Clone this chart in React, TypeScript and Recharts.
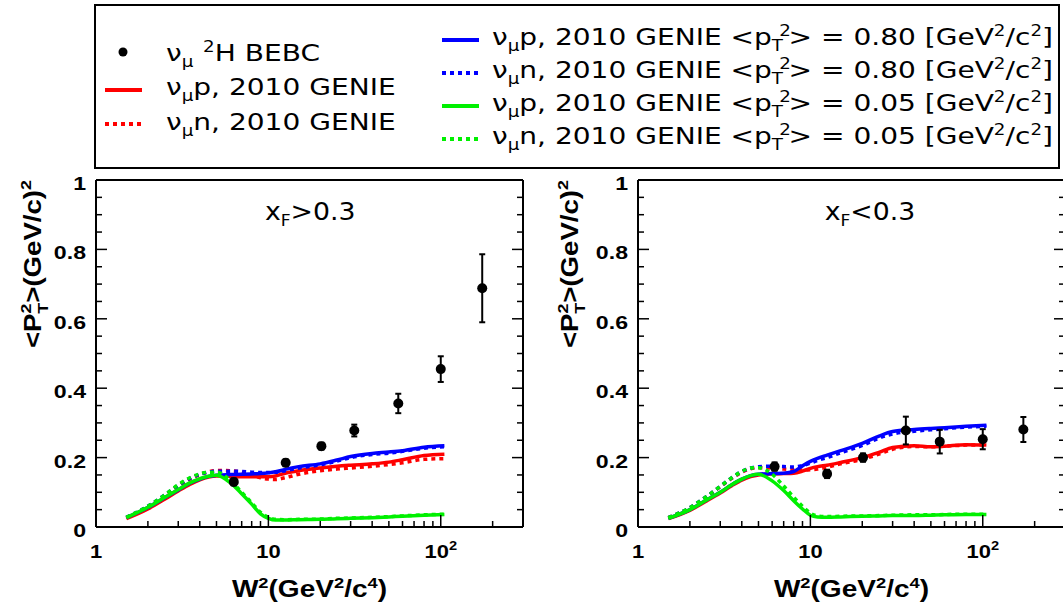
import React from "react";
import { ComposedChart, Line, Scatter, XAxis, YAxis, ErrorBar, ReferenceDot } from "recharts";

// W^2 grid of the GENIE curves
const W2 = [1.5, 2, 2.5, 3, 3.5, 4, 4.5, 5, 6, 7, 8, 9, 10, 11, 12.5, 15, 20, 25, 30, 40, 50, 60, 80, 105];

// x_F > 0.3
const hiRedP = [0.024, 0.052, 0.080, 0.104, 0.123, 0.136, 0.144, 0.147, 0.146, 0.145, 0.145, 0.145, 0.145, 0.147, 0.155, 0.162, 0.170, 0.175, 0.178, 0.182, 0.187, 0.194, 0.206, 0.210];
const hiRedN = [0.027, 0.058, 0.090, 0.118, 0.138, 0.151, 0.159, 0.163, 0.162, 0.158, 0.150, 0.142, 0.138, 0.137, 0.142, 0.152, 0.162, 0.167, 0.170, 0.175, 0.180, 0.185, 0.195, 0.197];
const hiBlueP = [0.027, 0.056, 0.084, 0.107, 0.126, 0.138, 0.146, 0.149, 0.151, 0.152, 0.153, 0.154, 0.156, 0.159, 0.166, 0.174, 0.182, 0.193, 0.203, 0.212, 0.216, 0.220, 0.230, 0.234];
const hiBlueN = [0.028, 0.060, 0.092, 0.120, 0.140, 0.152, 0.158, 0.161, 0.161, 0.160, 0.158, 0.157, 0.157, 0.158, 0.162, 0.170, 0.179, 0.190, 0.200, 0.209, 0.213, 0.218, 0.227, 0.231];
const hiGreenP = [0.027, 0.057, 0.085, 0.108, 0.127, 0.139, 0.146, 0.149, 0.128, 0.096, 0.066, 0.038, 0.025, 0.020, 0.020, 0.021, 0.022, 0.024, 0.025, 0.027, 0.029, 0.031, 0.034, 0.036];
const hiGreenN = [0.028, 0.060, 0.092, 0.122, 0.142, 0.153, 0.158, 0.158, 0.135, 0.100, 0.070, 0.042, 0.028, 0.022, 0.021, 0.022, 0.023, 0.025, 0.026, 0.028, 0.030, 0.032, 0.035, 0.037];
const hiDataW2 = [6.3, 12.6, 20.3, 31.5, 56.7, 100, 174];
const hiDataVal = [0.13, 0.185, 0.233, 0.278, 0.356, 0.455, 0.688];
const hiDataErr = [0.01, 0.01, 0.01, 0.017, 0.028, 0.037, 0.098];

// x_F < 0.3
const loRedP = [0.024, 0.048, 0.075, 0.098, 0.119, 0.135, 0.145, 0.150, 0.153, 0.154, 0.155, 0.161, 0.169, 0.174, 0.178, 0.186, 0.200, 0.215, 0.229, 0.234, 0.231, 0.233, 0.237, 0.236];
const loRedN = [0.027, 0.055, 0.087, 0.116, 0.140, 0.158, 0.168, 0.171, 0.170, 0.167, 0.165, 0.164, 0.165, 0.167, 0.172, 0.182, 0.195, 0.210, 0.224, 0.232, 0.231, 0.233, 0.236, 0.237];
const loBlueP = [0.025, 0.050, 0.078, 0.100, 0.122, 0.138, 0.148, 0.152, 0.154, 0.155, 0.160, 0.176, 0.189, 0.198, 0.207, 0.220, 0.241, 0.262, 0.275, 0.281, 0.284, 0.286, 0.290, 0.293];
const loBlueN = [0.027, 0.056, 0.088, 0.117, 0.142, 0.160, 0.170, 0.174, 0.175, 0.174, 0.173, 0.177, 0.184, 0.192, 0.200, 0.214, 0.235, 0.256, 0.268, 0.276, 0.280, 0.283, 0.288, 0.290];
const loGreenP = [0.025, 0.050, 0.078, 0.100, 0.122, 0.138, 0.148, 0.152, 0.133, 0.105, 0.076, 0.052, 0.034, 0.029, 0.028, 0.029, 0.031, 0.032, 0.033, 0.033, 0.034, 0.035, 0.036, 0.036];
const loGreenN = [0.027, 0.056, 0.088, 0.117, 0.142, 0.160, 0.170, 0.171, 0.152, 0.118, 0.086, 0.060, 0.040, 0.032, 0.030, 0.031, 0.032, 0.033, 0.034, 0.035, 0.035, 0.036, 0.037, 0.037];
const loDataW2 = [6.2, 12.5, 20.2, 35.8, 56.3, 100, 172];
const loDataVal = [0.174, 0.153, 0.2, 0.278, 0.246, 0.253, 0.281];
const loDataErr = [0.012, 0.012, 0.012, 0.04, 0.034, 0.029, 0.036];

const X_TICKS = [1, 2, 3, 4, 5, 6, 7, 8, 9, 10, 20, 30, 40, 50, 60, 70, 80, 90, 100, 200];
const X_MAJOR = [1, 10, 100];
const Y_TICKS = [0, 0.05, 0.1, 0.15, 0.2, 0.25, 0.3, 0.35, 0.4, 0.45, 0.5, 0.55, 0.6, 0.65, 0.7, 0.75, 0.8, 0.85, 0.9, 0.95, 1];
const Y_LABELS: Record<string, string> = { "0": "0", "0.2": "0.2", "0.4": "0.4", "0.6": "0.6", "0.8": "0.8", "1": "1" };

const RED = "#ff0000";
const BLUE = "#0000ff";
const GREEN = "#00f000";

const SERIES = [
  { key: "rs", color: RED, dashed: false },
  { key: "rd", color: RED, dashed: true },
  { key: "bs", color: BLUE, dashed: false },
  { key: "bd", color: BLUE, dashed: true },
  { key: "gs", color: GREEN, dashed: false },
  { key: "gd", color: GREEN, dashed: true },
];

const buildCurves = (rs: number[], rd: number[], bs: number[], bd: number[], gs: number[], gd: number[]) =>
  W2.map((w2, i) => ({ w2, rs: rs[i], rd: rd[i], bs: bs[i], bd: bd[i], gs: gs[i], gd: gd[i] }));

const buildPoints = (xs: number[], vs: number[], es: number[]) => xs.map((w2, i) => ({ w2, v: vs[i], err: es[i] }));

const hiCurves = buildCurves(hiRedP, hiRedN, hiBlueP, hiBlueN, hiGreenP, hiGreenN);
const loCurves = buildCurves(loRedP, loRedN, loBlueP, loBlueN, loGreenP, loGreenN);
const hiPoints = buildPoints(hiDataW2, hiDataVal, hiDataErr);
const loPoints = buildPoints(loDataW2, loDataVal, loDataErr);

const AXIS_FONT = "'Liberation Sans', Arial, sans-serif";
const TEXT_FONT = "'DejaVu Sans', sans-serif";

const isMajorY = (v: number) => Math.abs(v * 5 - Math.round(v * 5)) < 1e-6;

const BottomTick = (props: any) => {
  const { x, y, payload } = props;
  const v = payload.value;
  const major = X_MAJOR.includes(v);
  return (
    <g>
      <line x1={x} x2={x} y1={y} y2={y - (major ? 12 : 6)} stroke="#000" strokeWidth={1.5} />
      {major && (
        <text transform={`translate(${x},${y + 31}) scale(1.22,1)`} textAnchor="middle" fontFamily={AXIS_FONT} fontWeight="bold" fontSize={18} fill="#000">
          {v === 100 ? (
            <>
              10<tspan dy={-8} fontSize={12}>2</tspan>
            </>
          ) : (
            String(v)
          )}
        </text>
      )}
    </g>
  );
};

const TopTick = (props: any) => {
  const { x, y, payload } = props;
  const major = X_MAJOR.includes(payload.value);
  return <line x1={x} x2={x} y1={y} y2={y + (major ? 12 : 6)} stroke="#000" strokeWidth={1.5} />;
};

const LeftTick = (props: any) => {
  const { x, y, payload } = props;
  const v = payload.value;
  const major = isMajorY(v);
  const label = Y_LABELS[String(Math.round(v * 100) / 100)];
  return (
    <g>
      <line x1={x} x2={x + (major ? 11 : 6)} y1={y} y2={y} stroke="#000" strokeWidth={1.5} />
      {major && label && (
        <text transform={`translate(${x - 10},${y + 10}) scale(1.25,1)`} textAnchor="end" fontFamily={AXIS_FONT} fontWeight="bold" fontSize={18.5} fill="#000">
          {label}
        </text>
      )}
    </g>
  );
};

const RightTick = (props: any) => {
  const { x, y, payload } = props;
  const major = isMajorY(payload.value);
  return <line x1={x} x2={x - (major ? 11 : 6)} y1={y} y2={y} stroke="#000" strokeWidth={1.5} />;
};

const xTitle = (props: any) => {
  const vb = props.viewBox || {};
  const cx = (vb.x ?? 0) + (vb.width ?? 0) / 2;
  const y = (vb.y ?? 527) + 70;
  return (
    <text transform={`translate(${cx},${y}) scale(1.22,1)`} textAnchor="middle" fontFamily={AXIS_FONT} fontWeight="bold" fontSize={23} fill="#000">
      W<tspan dy={-9} fontSize={15}>2</tspan>
      <tspan dy={9}>(GeV</tspan>
      <tspan dy={-9} fontSize={15}>2</tspan>
      <tspan dy={9}>/c</tspan>
      <tspan dy={-9} fontSize={15}>4</tspan>
      <tspan dy={9}>)</tspan>
    </text>
  );
};

const makeYTitle = (offset: number) => (props: any) => {
  const vb = props.viewBox || {};
  const x = (vb.x ?? 0) + (vb.width ?? 0) - offset;
  const y = vb.y ?? 180;
  return (
    <text transform={`translate(${x},${y}) rotate(-90) scale(1.2,1)`} textAnchor="end" fontFamily={AXIS_FONT} fontWeight="bold" fontSize={23} fill="#000">
      {"<P"}
      <tspan dy={-10} fontSize={15}>2</tspan>
      <tspan dx={-8.5} dy={17} fontSize={15}>T</tspan>
      <tspan dy={-7}>{">(GeV/c)"}</tspan>
      <tspan dy={-10} fontSize={15}>2</tspan>
    </text>
  );
};

const makeTag = (sign: string) => (props: any) => {
  const vb = props.viewBox || {};
  return (
    <text transform={`translate(${vb.x ?? 0},${vb.y ?? 0}) scale(1.07,1)`} fontFamily={TEXT_FONT} fontSize={25} fill="#000">
      x<tspan dy={6} fontSize={16}>F</tspan>
      <tspan dy={-6}>{sign}0.3</tspan>
    </text>
  );
};

const DataDot = (props: any) => <circle cx={props.cx} cy={props.cy} r={5} fill="#000" />;

const axisLine = { stroke: "#000", strokeWidth: 2 };

type PanelProps = {
  curves: any[];
  points: any[];
  left: number;
  marginLeft: number;
  marginRight: number;
  titleOffset: number;
  tagX: number;
  sign: string;
};

// axes get a 1px box so recharts draws them; the margins leave the plot frame where the reference has it
const Panel = ({ curves, points, left, marginLeft, marginRight, titleOffset, tagX, sign }: PanelProps) => (
  <div style={{ position: "absolute", left, top: 0 }}>
    <ComposedChart width={540} height={608} data={curves} margin={{ top: 179, right: marginRight, bottom: 80, left: marginLeft }}>
      <XAxis xAxisId="b" dataKey="w2" type="number" scale="log" domain={[1, 300]} allowDataOverflow ticks={X_TICKS} interval={0}
        tick={<BottomTick />} tickLine={false} tickSize={0} tickMargin={0} height={1} axisLine={axisLine} label={xTitle} />
      <XAxis xAxisId="t" orientation="top" type="number" scale="log" domain={[1, 300]} allowDataOverflow ticks={X_TICKS} interval={0}
        tick={<TopTick />} tickLine={false} tickSize={0} tickMargin={0} height={1} axisLine={axisLine} />
      <YAxis yAxisId="l" type="number" domain={[0, 1]} allowDataOverflow ticks={Y_TICKS} interval={0}
        tick={<LeftTick />} tickLine={false} tickSize={0} tickMargin={0} width={1} axisLine={axisLine} label={makeYTitle(titleOffset)} />
      <YAxis yAxisId="r" orientation="right" type="number" domain={[0, 1]} allowDataOverflow ticks={Y_TICKS} interval={0}
        tick={<RightTick />} tickLine={false} tickSize={0} tickMargin={0} width={1} axisLine={axisLine} />
      {SERIES.map((s) => (
        <Line key={s.key} xAxisId="b" yAxisId="l" dataKey={s.key} type="monotone" stroke={s.color} strokeWidth={3.5}
          strokeDasharray={s.dashed ? "4 4" : undefined} dot={false} activeDot={false} isAnimationActive={false} />
      ))}
      <Scatter xAxisId="b" yAxisId="l" data={points} dataKey="v" shape={<DataDot />} isAnimationActive={false}>
        <ErrorBar dataKey="err" direction="y" width={3} stroke="#000" strokeWidth={2} isAnimationActive={false} />
      </Scatter>
      <ReferenceDot xAxisId="b" yAxisId="l" x={tagX} y={0.885} r={0} fill="none" stroke="none" label={makeTag(sign)} />
    </ComposedChart>
  </div>
);

const LEG_SIZE = 23;
const SUB = 15;

const LegendText = ({ x, y, children }: { x: number; y: number; children: React.ReactNode }) => (
  <text transform={`translate(${x},${y}) scale(1.22,1)`} fontFamily={TEXT_FONT} fontSize={LEG_SIZE} fill="#000">
    {children}
  </text>
);

const numu = (rest: string) => (
  <>
    ν<tspan dy={6} fontSize={SUB}>μ</tspan>
    <tspan dy={-6}>{rest}</tspan>
  </>
);

const ptRow = (target: string, value: string) => (
  <>
    ν<tspan dy={6} fontSize={SUB}>μ</tspan>
    <tspan dy={-6}>{`${target}, 2010 GENIE <p`}</tspan>
    <tspan dy={6} fontSize={SUB}>T</tspan>
    <tspan dx={-3} dy={-15} fontSize={SUB}>2</tspan>
    <tspan dx={-2} dy={9}>{`> = ${value} [GeV`}</tspan>
    <tspan dy={-9} fontSize={SUB}>2</tspan>
    <tspan dy={9}>/c</tspan>
    <tspan dy={-9} fontSize={SUB}>2</tspan>
    <tspan dy={9}>]</tspan>
  </>
);

const LegendSample = ({ x1, x2, y, color, dashed }: { x1: number; x2: number; y: number; color: string; dashed: boolean }) => (
  <line x1={x1} x2={x2} y1={y} y2={y} stroke={color} strokeWidth={4} strokeDasharray={dashed ? "4 4" : undefined} />
);

const RIGHT_ROWS = [
  { color: BLUE, dashed: false, target: "p", value: "0.80" },
  { color: BLUE, dashed: true, target: "n", value: "0.80" },
  { color: GREEN, dashed: false, target: "p", value: "0.05" },
  { color: GREEN, dashed: true, target: "n", value: "0.05" },
];

const LegendBox = () => (
  <svg width={968} height={166} style={{ position: "absolute", left: 94, top: 4 }}>
    <rect x={1} y={1} width={964} height={163} fill="#fff" stroke="#000" strokeWidth={2} />
    <circle cx={29} cy={48} r={4.5} fill="#000" />
    <LegendText x={72} y={57}>
      ν<tspan dy={6} fontSize={SUB}>μ</tspan>
      <tspan dx={8} dy={-15} fontSize={SUB}>2</tspan>
      <tspan dy={9}>H BEBC</tspan>
    </LegendText>
    <LegendSample x1={11} x2={48} y={86} color={RED} dashed={false} />
    <LegendText x={72} y={91}>{numu("p, 2010 GENIE")}</LegendText>
    <LegendSample x1={11} x2={48} y={120} color={RED} dashed={true} />
    <LegendText x={72} y={126}>{numu("n, 2010 GENIE")}</LegendText>
    {RIGHT_ROWS.map((r, i) => (
      <g key={i}>
        <LegendSample x1={348} x2={385} y={36 + i * 33} color={r.color} dashed={r.dashed} />
        <LegendText x={398} y={41 + i * 33}>{ptRow(r.target, r.value)}</LegendText>
      </g>
    ))}
  </svg>
);

export default function App() {
  return (
    <div style={{ position: "absolute", left: 0, top: 0, width: 1063, height: 608, overflow: "hidden", background: "#fff" }}>
      <Panel curves={hiCurves} points={hiPoints} left={0} marginLeft={95} marginRight={16} titleOffset={55} tagX={9.55} sign=">" />
      <Panel curves={loCurves} points={loPoints} left={540} marginLeft={97} marginRight={14} titleOffset={60} tagX={12.1} sign="<" />
      <LegendBox />
    </div>
  );
}
